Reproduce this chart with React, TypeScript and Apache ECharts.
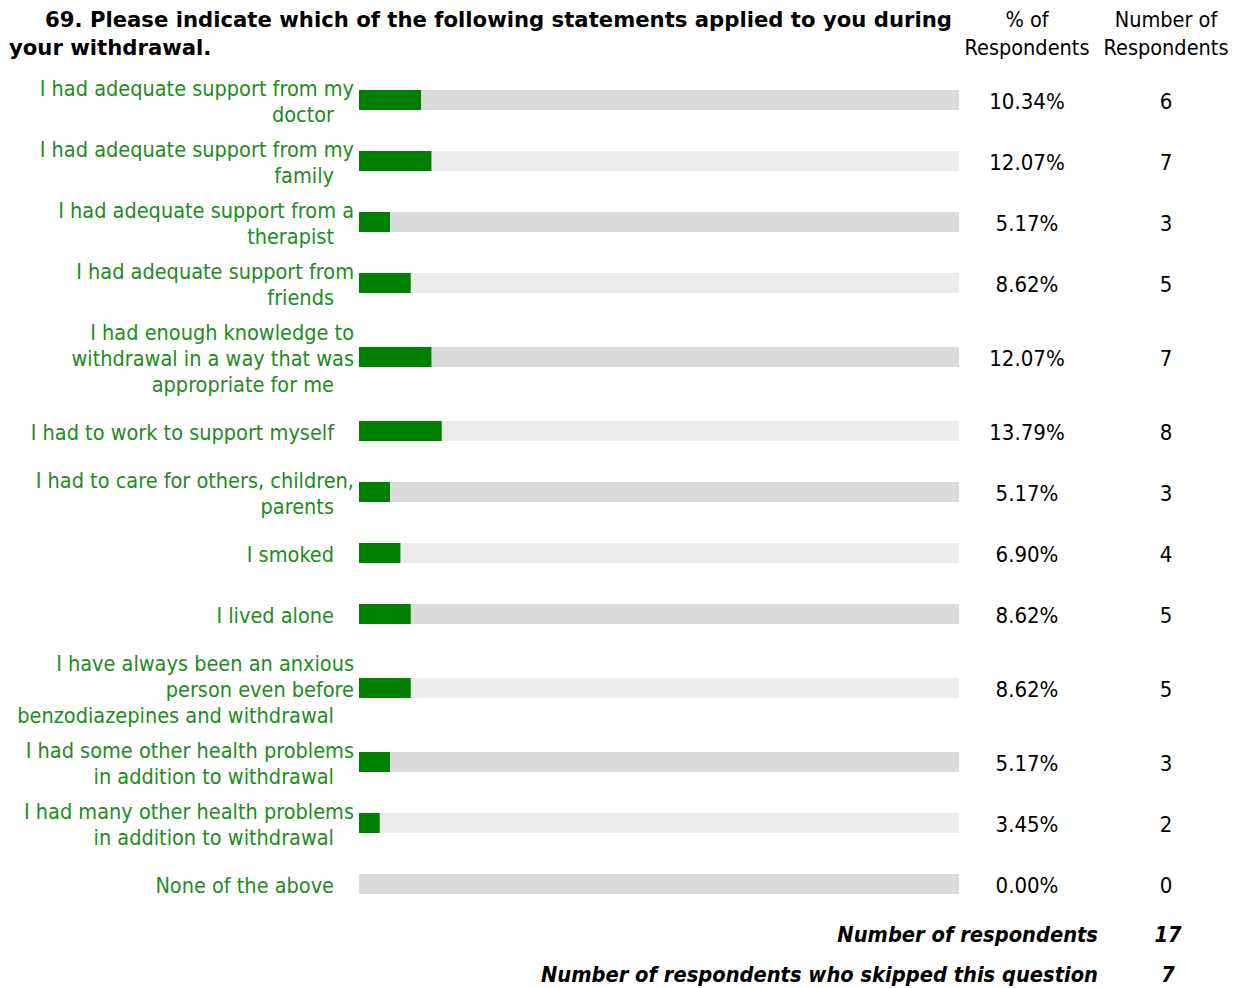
import React, { useEffect, useRef } from "react";
import * as echarts from "echarts";

const titleLines = [
  "69. Please indicate which of the following statements applied to you during",
  "your withdrawal.",
];
const statements = [
  "I had adequate support from my\ndoctor",
  "I had adequate support from my\nfamily",
  "I had adequate support from a\ntherapist",
  "I had adequate support from\nfriends",
  "I had enough knowledge to\nwithdrawal in a way that was\nappropriate for me",
  "I had to work to support myself",
  "I had to care for others, children,\nparents",
  "I smoked",
  "I lived alone",
  "I have always been an anxious\nperson even before\nbenzodiazepines and withdrawal",
  "I had some other health problems\nin addition to withdrawal",
  "I had many other health problems\nin addition to withdrawal",
  "None of the above",
];
const percentValues = [10.34, 12.07, 5.17, 8.62, 12.07, 13.79, 5.17, 6.9, 8.62, 8.62, 5.17, 3.45, 0.0];
const respondentCounts = [6, 7, 3, 5, 7, 8, 3, 4, 5, 5, 3, 2, 0];
const columnHeaders = ["% of\nRespondents", "Number of\nRespondents"];
const footerLabels = ["Number of respondents", "Number of respondents who skipped this question"];
const footerValues = [17, 7];

const FONT = "'DejaVu Sans Condensed', 'DejaVu Sans', sans-serif";
const TITLE_FONT = "'DejaVu Sans', sans-serif";
const LABEL_COLOR = "#228b22";
const LINE_H = 26;
const BASE_ROW = 61;

export default function App() {
  const ref = useRef<HTMLDivElement>(null);
  useEffect(() => {
    if (!ref.current) return;
    const chart = echarts.init(ref.current, undefined, { renderer: "svg" });

    // row layout from line counts
    const lineCounts = statements.map((s) => s.split("\n").length);
    const heights = lineCounts.map((n) => BASE_ROW + Math.max(0, n - 2) * LINE_H);
    const centers: number[] = [];
    let acc = 0;
    heights.forEach((h) => {
      centers.push(acc + h / 2);
      acc += h;
    });
    const total = acc;

    const data = percentValues.map((p, i) => [p, centers[i], respondentCounts[i]]);

    const textStyle = (extra: any) => ({
      fontFamily: FONT,
      fontSize: 21.5,
      ...extra,
    });

    chart.setOption({
      animation: false,
      grid: { left: 359, width: 600, top: 69.5, height: total },
      xAxis: { type: "value", min: 0, max: 100, show: false },
      yAxis: { type: "value", min: 0, max: total, inverse: true, show: false },
      graphic: [
        {
          type: "text",
          x: 45,
          y: 19,
          style: textStyle({ text: titleLines[0], fontFamily: TITLE_FONT, fontWeight: "bold", fontSize: 21.2, fill: "#000", verticalAlign: "middle" }),
        },
        {
          type: "text",
          x: 9,
          y: 47,
          style: textStyle({ text: titleLines[1], fontFamily: TITLE_FONT, fontWeight: "bold", fontSize: 21.2, fill: "#000", verticalAlign: "middle" }),
        },
        ...columnHeaders.flatMap((h, ci) =>
          h.split("\n").map((line, li) => ({
            type: "text",
            x: ci === 0 ? 1027 : 1166,
            y: 19 + li * 28,
            style: textStyle({ text: line, fill: "#000", align: "center", verticalAlign: "middle" }),
          }))
        ),
        ...footerLabels.flatMap((lab, i) => [
          {
            type: "text",
            x: 1098,
            y: 934 + i * 40,
            style: textStyle({ text: lab, fill: "#000", fontWeight: "bold", fontStyle: "italic", fontSize: 21.7, align: "right", verticalAlign: "middle" }),
          },
          {
            type: "text",
            x: 1168,
            y: 934 + i * 40,
            style: textStyle({ text: String(footerValues[i]), fill: "#000", fontWeight: "bold", fontStyle: "italic", fontSize: 21.7, align: "center", verticalAlign: "middle" }),
          },
        ]),
      ],
      series: [
        {
          type: "custom",
          data,
          renderItem: (params: any, api: any) => {
            const idx = params.dataIndex;
            const pct = api.value(0);
            const cy = api.value(1);
            const cnt = api.value(2);
            const s = api.coord([0, cy]);
            const e = api.coord([100, cy]);
            const v = api.coord([pct, cy]);
            const barH = 20;
            const lines = statements[idx].split("\n");
            const n = lines.length;
            const children: any[] = [
              {
                type: "rect",
                shape: { x: s[0], y: s[1] - barH / 2, width: e[0] - s[0], height: barH },
                style: { fill: idx % 2 === 0 ? "#dcdcdc" : "#ececec" },
              },
              {
                type: "rect",
                shape: { x: s[0], y: s[1] - barH / 2, width: v[0] - s[0], height: barH },
                style: { fill: "#008000" },
              },
            ];
            lines.forEach((line, li) => {
              const last = li === n - 1;
              children.push({
                type: "text",
                x: last ? s[0] - 25 : s[0] - 5,
                y: s[1] + 1 + (li - (n - 1) / 2) * LINE_H,
                style: textStyle({ text: line, fill: LABEL_COLOR, align: "right", verticalAlign: "middle" }),
              });
            });
            children.push({
              type: "text",
              x: e[0] + 68,
              y: s[1] + 1,
              style: textStyle({ text: pct.toFixed(2) + "%", fontSize: 22, fill: "#000", align: "center", verticalAlign: "middle" }),
            });
            children.push({
              type: "text",
              x: e[0] + 207,
              y: s[1] + 1,
              style: textStyle({ text: String(cnt), fontSize: 22, fill: "#000", align: "center", verticalAlign: "middle" }),
            });
            return { type: "group", children };
          },
        },
      ],
    });
    return () => chart.dispose();
  }, []);
  return (
    <div
      ref={ref}
      style={{ position: "absolute", left: 0, top: 0, width: 1240, height: 988, background: "#fff" }}
    />
  );
}
